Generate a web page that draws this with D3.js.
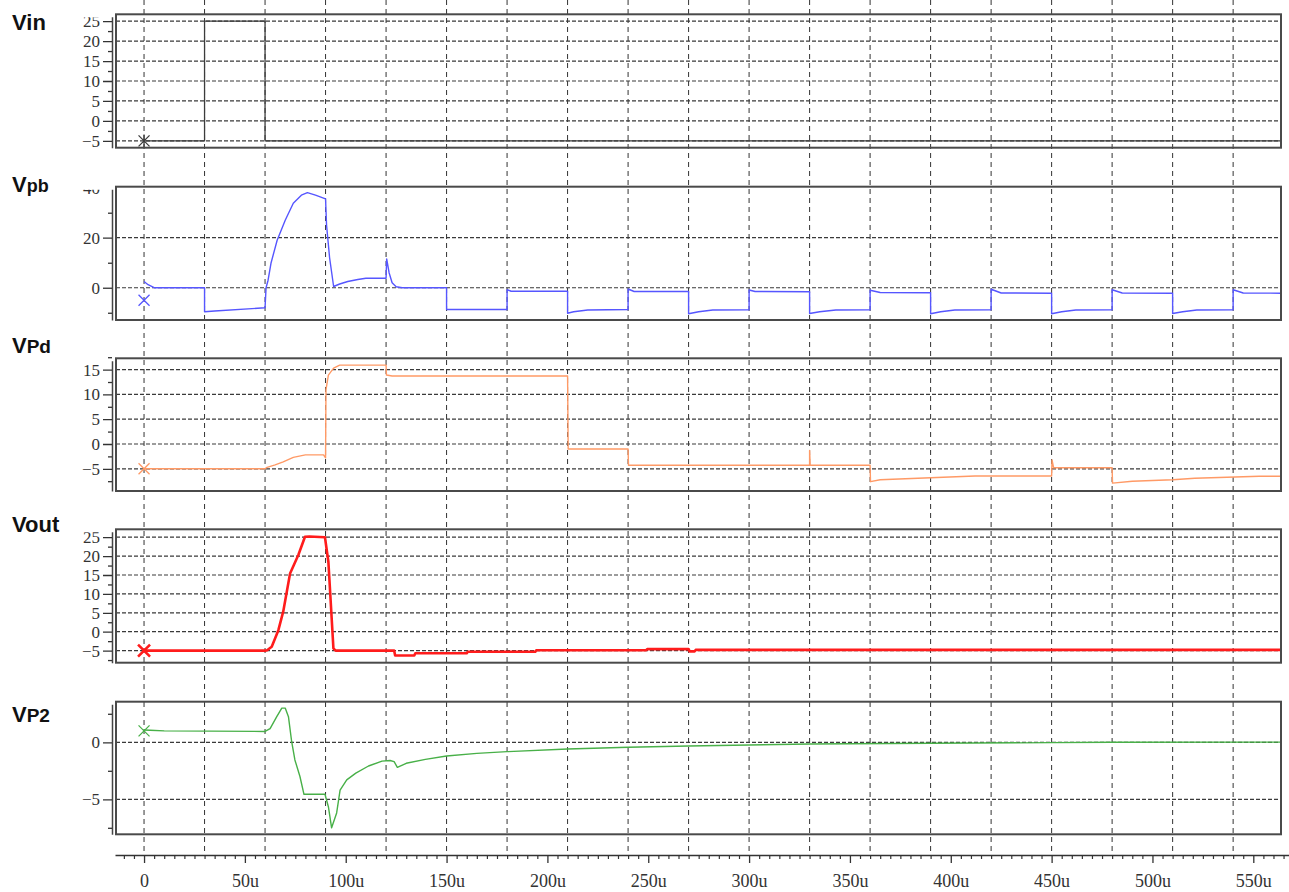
<!DOCTYPE html>
<html>
<head>
<meta charset="utf-8">
<script src="https://cdn.jsdelivr.net/npm/d3@7"></script>
<style>
  html, body { margin: 0; background: #fff; }
  svg { display: block; }
</style>
</head>
<body>
<svg id="chart" width="1289" height="892"></svg>
<script>
// ---- time axis (microseconds) ----
const timeTicks  = [0, 50, 100, 150, 200, 250, 300, 350, 400, 450, 500, 550];
const timeLabels = ["0", "50u", "100u", "150u", "200u", "250u", "300u", "350u", "400u", "450u", "500u", "550u"];
const gridTimes  = [0, 30, 60, 90, 120, 150, 180, 210, 240, 270, 300, 330, 360, 390, 420, 450, 480, 510, 540];

// ---- waveforms: [time (u), volts] ----
const vin = [[0,-5],[30,-5],[30,25],[60,25],[60,-5],[570,-5]];

const vpb = [[0,2.5],[2,1.2],[5,0],[30,0],[30,-9.6],[35,-9.3],[60,-8],[60.5,0],[61.5,3],[63,10],[66,19],
  [70,27],[74,33.8],[78,37],[81,38],[85,37],[90,35.5],[90.5,25],[92,12],[94,0.5],[97,1.5],[101,2.5],
  [106,3.3],[110,3.8],[120,3.8],[120.3,11.5],[121.5,6],[123,2],[125,0.4],[128,0],[150,0],
  [150,-8.7],[180,-8.7],[180,-0.8],[182,-1.4],[210,-1.4],
  [210,-10.2],[213,-9.6],[220,-8.9],[240,-8.7],[240,-0.5],[243,-1.5],[270,-1.5],
  [270,-10.4],[275,-9.6],[282,-8.9],[300,-8.8],[300,-0.9],[303,-1.5],[330,-1.6],
  [330,-10.3],[335,-9.6],[343,-8.9],[360,-8.8],[360,-1],[365,-1.9],[390,-2],
  [390,-10.4],[395,-9.6],[402,-8.9],[420,-8.8],[420,-0.6],[425,-2.1],[450,-2.2],
  [450,-10.4],[455,-9.6],[462,-8.9],[480,-8.8],[480,-0.8],[485,-2.1],[510,-2.2],
  [510,-10.3],[515,-9.6],[522,-8.9],[540,-8.8],[540,-0.8],[545,-2.1],[570,-2.2]];

const vpd = [[0,-5],[60,-5],[61,-4.7],[65,-4.2],[69,-3.6],[74,-2.7],[80,-2.2],[89,-2.2],[90,-2.8],
  [90.2,10.9],[91.4,13.9],[94,15.3],[97,15.9],[120,15.9],[120.2,13.9],[123,13.7],[210,13.7],
  [210.3,-1.0],[240,-1.0],[240.2,-4.3],[330,-4.3],[330,-1.3],[330.3,-4.3],[360,-4.3],
  [360.2,-7.6],[365,-7.2],[390,-6.8],[412,-6.45],[450,-6.45],[450.2,-3.2],[451,-4.8],[480,-4.8],
  [480.2,-7.9],[490,-7.5],[510,-7.2],[521,-6.9],[553,-6.5],[570,-6.5]];

const vout = [[0,-5],[60,-5],[61,-4.9],[63.3,-4],[66.6,0.4],[69,5.3],[72.4,15.4],[76.5,20.3],[79.8,25.1],
  [82,25.2],[89.7,25],[91.4,18.5],[93.9,-4.4],[95,-5],[124,-5],[124.5,-6.3],[134,-6.3],[134.5,-5.7],
  [160,-5.7],[160.5,-5.3],[194,-5.3],[194.5,-4.9],[249,-4.9],[249.5,-4.6],[270,-4.6],[270.5,-5.2],
  [273,-5.2],[273.5,-4.8],[570,-4.8]];

const vp2 = [[0,1.08],[3,1.05],[10,1.0],[60,0.95],[62.5,1.2],[65.8,2.25],[68.3,3.0],[70,3.0],[71.6,2.25],
  [73.2,0.05],[74.8,-1.55],[77.3,-3.0],[79.3,-4.56],[89.7,-4.56],[91.4,-5.65],[93,-7.5],[95.5,-6.2],
  [97.2,-4.2],[100.5,-3.3],[105,-2.7],[111.3,-2.08],[118,-1.65],[122,-1.6],[124,-1.7],[125.6,-2.2],
  [130,-1.84],[139.5,-1.5],[150,-1.2],[165,-0.97],[180,-0.82],[210,-0.59],[240,-0.44],[270,-0.32],
  [300,-0.24],[330,-0.15],[390,-0.09],[450,-0.03],[480,0.0],[570,0.02]];

// ---- per-panel voltage ticks ----
const vinTicks  = [-5, 0, 5, 10, 15, 20, 25];
const vinMinor  = [-2.5, 2.5, 7.5, 12.5, 17.5, 22.5];
const vpbTicks  = [0, 20, 40];
const vpbMinor  = [-10, 10, 30];
const vpdTicks  = [-5, 0, 5, 10, 15];
const vpdMinor  = [-7.5, -2.5, 2.5, 7.5, 12.5, 17.5];
const voutTicks = [-5, 0, 5, 10, 15, 20, 25];
const voutMinor = [-7.5, -2.5, 2.5, 7.5, 12.5, 17.5, 22.5];
const vp2Ticks  = [-5, 0];
const vp2Minor  = [-7.5, -2.5, 2.5];

// ---- layout ----
const boxLeft = 116, boxRight = 1281, axisX = 112;
const panels = [
  { main: "V", sub: "in",  subSize: 22, titleY: 30,  data: vin,  color: "#3c3c3c", lw: 1.3, marker: "star", mark: -5,
    top: 14.3,  bottom: 147.7, lo: -6.7,  hi: 26.7,  ticks: vinTicks,  minor: vinMinor },
  { main: "V", sub: "pb",  subSize: 18, titleY: 192, data: vpb,  color: "#5656ff", lw: 1.4, marker: "x", mark: -5,
    top: 186.7, bottom: 320,   lo: -12.9, hi: 40.4,  ticks: vpbTicks,  minor: vpbMinor },
  { main: "V", sub: "Pd",  subSize: 19, titleY: 353, data: vpd,  color: "#ff9a66", lw: 1.4, marker: "x", mark: -5,
    top: 358.3, bottom: 491,   lo: -9.48, hi: 17.28, ticks: vpdTicks,  minor: vpdMinor },
  { main: "V", sub: "out", subSize: 22, titleY: 532, data: vout, color: "#ff1c1c", lw: 2.6, marker: "xb", mark: -5,
    top: 529.3, bottom: 662.7, lo: -8.2,  hi: 27.09, ticks: voutTicks, minor: voutMinor },
  { main: "V", sub: "P2",  subSize: 19, titleY: 722, data: vp2,  color: "#48b048", lw: 1.4, marker: "x", mark: 1.0,
    top: 701.7, bottom: 834.3, lo: -8.07, hi: 3.56,  ticks: vp2Ticks,  minor: vp2Minor }
];

const svg = d3.select("#chart");
const x = d3.scaleLinear().domain([-14.4, 567.7]).range([115, 1289]);

// vertical time grid running through the whole stack
svg.append("g").selectAll("line").data(gridTimes).join("line")
  .attr("x1", d => x(d)).attr("x2", d => x(d))
  .attr("y1", 0).attr("y2", 852)
  .attr("stroke", "#333").attr("stroke-width", 1)
  .attr("stroke-dasharray", "5,4");

const line = d3.line();

panels.forEach((p, i) => {
  const y = d3.scaleLinear().domain([p.lo, p.hi]).range([p.bottom, p.top]);
  const g = svg.append("g");

  // horizontal grid at labelled voltages
  g.append("g").selectAll("line")
    .data(p.ticks.filter(v => y(v) > p.top + 2 && y(v) < p.bottom - 2))
    .join("line")
    .attr("x1", boxLeft).attr("x2", boxRight)
    .attr("y1", d => y(d)).attr("y2", d => y(d))
    .attr("stroke", "#3a3a3a").attr("stroke-width", 1.2)
    .attr("stroke-dasharray", "4,2");

  // trace
  const clipId = "clip" + i;
  svg.append("clipPath").attr("id", clipId).append("rect")
    .attr("x", boxLeft).attr("y", p.top).attr("width", boxRight - boxLeft).attr("height", p.bottom - p.top);
  g.append("path")
    .attr("clip-path", `url(#${clipId})`)
    .attr("d", line(p.data.map(d => [x(d[0]), y(d[1])])))
    .attr("fill", "none").attr("stroke", p.color)
    .attr("stroke-width", p.lw).attr("stroke-linejoin", "round");

  // start marker
  const mx = x(0), my = y(p.mark), r = p.marker === "xb" ? 6 : 5.5;
  let md = `M${mx - r},${my - r}L${mx + r},${my + r}M${mx - r},${my + r}L${mx + r},${my - r}`;
  if (p.marker === "star") md += `M${mx},${my - r - 1}L${mx},${my + r + 1}`;
  g.append("path").attr("d", md).attr("fill", "none")
    .attr("stroke", p.color).attr("stroke-width", p.marker === "xb" ? 2.6 : 1.3);

  // frame
  g.append("rect")
    .attr("x", boxLeft).attr("y", p.top)
    .attr("width", boxRight - boxLeft).attr("height", p.bottom - p.top)
    .attr("fill", "none").attr("stroke", "#4a4a4a").attr("stroke-width", 2);

  // voltage axis
  const labClip = "lab" + i;
  svg.append("clipPath").attr("id", labClip).append("rect")
    .attr("x", -60).attr("y", p.top + 3).attr("width", 80).attr("height", p.bottom - p.top + 10);
  const ax = g.append("g")
    .attr("transform", `translate(${axisX},0)`)
    .attr("clip-path", `url(#${labClip})`)
    .call(d3.axisLeft(y).tickValues(p.ticks).tickSize(9).tickSizeOuter(0).tickPadding(3)
      .tickFormat(d => d3.format("d")(d)));
  ax.select(".domain").attr("stroke", "#444").attr("stroke-width", 1.5);
  ax.selectAll(".tick line").attr("stroke", "#333").attr("stroke-width", 1.3);
  ax.selectAll(".tick text")
    .attr("font-family", "'Liberation Serif', serif").attr("font-size", 17).attr("fill", "#333");

  const mn = g.append("g")
    .attr("transform", `translate(${axisX},0)`)
    .call(d3.axisLeft(y).tickValues(p.minor.filter(v => y(v) > p.top - 3 && y(v) < p.bottom + 1))
      .tickSize(4).tickSizeOuter(0).tickFormat(""));
  mn.select(".domain").remove();
  mn.selectAll(".tick line").attr("stroke", "#333").attr("stroke-width", 1.3);

  // signal name
  const t = svg.append("text")
    .attr("x", 12).attr("y", p.titleY)
    .attr("font-family", "'Liberation Sans', Arial, sans-serif")
    .attr("font-weight", "bold").attr("fill", "#111");
  t.append("tspan").attr("font-size", 22).text(p.main);
  t.append("tspan").attr("font-size", p.subSize).text(p.sub);
});

// time axis
const xa = svg.append("g")
  .attr("transform", "translate(0,855)")
  .call(d3.axisBottom(x).tickValues(timeTicks).tickSize(8).tickSizeOuter(0).tickPadding(11)
    .tickFormat((d, i) => timeLabels[i]));
xa.select(".domain").attr("stroke", "#333").attr("stroke-width", 1.5);
xa.selectAll(".tick line").attr("stroke", "#333").attr("stroke-width", 1.3);
xa.selectAll(".tick text")
  .attr("font-family", "'Liberation Serif', serif").attr("font-size", 18).attr("fill", "#333");

const minorTimes = d3.range(-10, 566, 5).filter(t => t % 50 !== 0);
const xm = svg.append("g")
  .attr("transform", "translate(0,855)")
  .call(d3.axisBottom(x).tickValues(minorTimes).tickSize(4).tickSizeOuter(0).tickFormat(""));
xm.select(".domain").remove();
xm.selectAll(".tick line").attr("stroke", "#333").attr("stroke-width", 1.2);
</script>
</body>
</html>
